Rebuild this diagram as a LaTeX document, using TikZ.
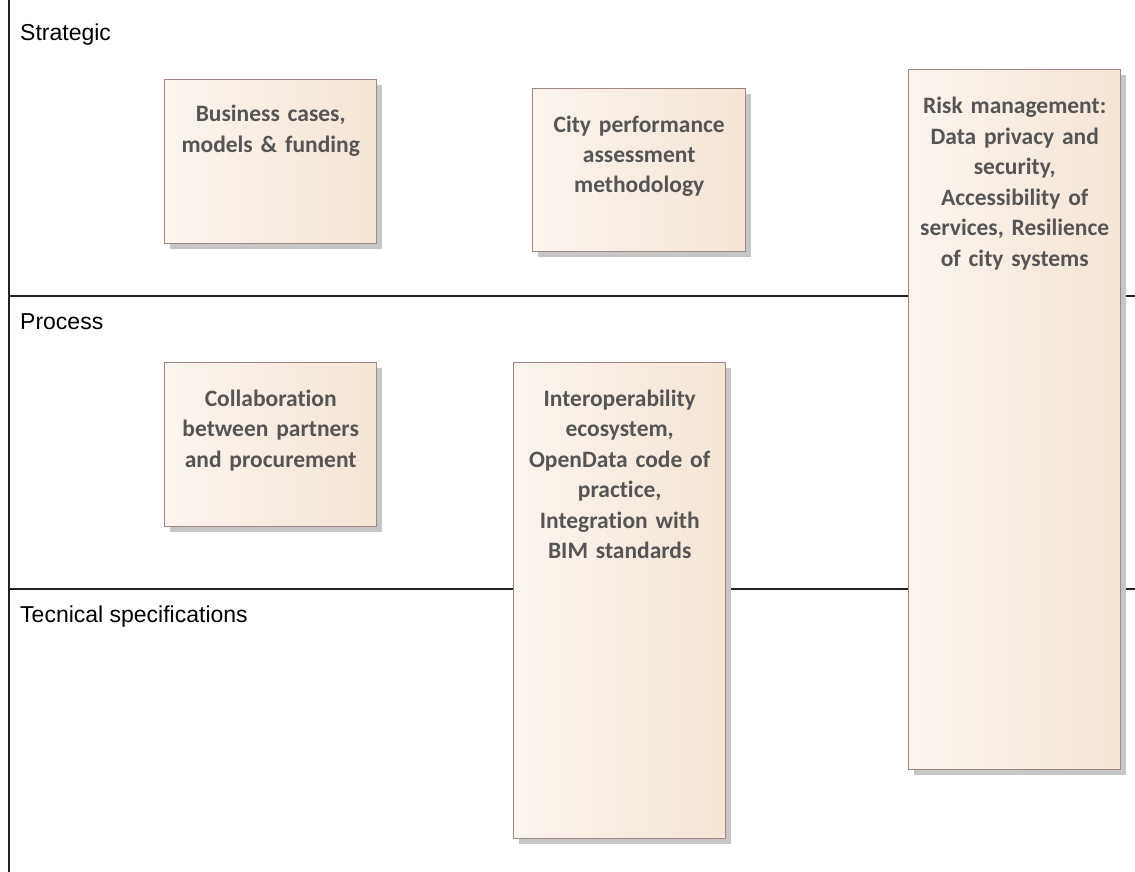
\documentclass[tikz,border=0pt]{standalone}
\usepackage{fontspec}
\setmainfont{Carlito}[Ligatures=NoCommon]
\newfontfamily\labfont{Liberation Sans}
\usetikzlibrary{shadows}
\definecolor{boxline}{HTML}{A08585}
\definecolor{boxleft}{HTML}{FBF4EE}
\definecolor{boxmid}{HTML}{FCF7F2}
\definecolor{boxright}{HTML}{F4E5D6}
\definecolor{boxtext}{HTML}{555555}
\definecolor{shadowcol}{HTML}{C6C6C6}
\definecolor{lanecol}{HTML}{222222}
\tikzset{
  lane/.style={draw=lanecol, line width=1.8pt},
  lanelabel/.style={font=\labfont\fontsize{23}{27}\selectfont, text=black, anchor=base west, inner sep=0pt},
  box/.style={draw=boxline, line width=1.4pt, left color=boxleft, middle color=boxmid, right color=boxright,
    anchor=north west, inner sep=0pt,
    drop shadow={shadow xshift=5pt, shadow yshift=-5pt, fill=shadowcol, opacity=1}},
  boxtxt/.style={font=\bfseries\fontsize{23.5}{30.5}\selectfont, text=boxtext, align=center, anchor=base, inner sep=0pt}
}
\begin{document}
\begin{tikzpicture}[x=1pt,y=-1pt]
\useasboundingbox (0,0) rectangle (1135,872);
% lanes
\coordinate (vtop) at (9,0);
\coordinate (vbot) at (9,872);
\coordinate (h1a) at (9,296);
\coordinate (h1b) at (1135,296);
\coordinate (h2a) at (9,589);
\coordinate (h2b) at (1135,589);
\draw[lane] (vtop) -- (vbot);
\draw[lane] (h1a) -- (h1b);
\draw[lane] (h2a) -- (h2b);
\node[lanelabel] (lstrat) at (20,41) {Strategic};
\node[lanelabel] (lproc) at (20,329) {Process};
\node[lanelabel] (ltech) at (20,622) {Tecnical specifications};
% boxes
\node[box, minimum width=212pt, minimum height=164pt] (b1) at (164,79) {};
\node[boxtxt, text width=205pt] (t1) at ([yshift=-43pt]b1.north) {Business cases,\\models \& funding};
\node[box, minimum width=213pt, minimum height=163pt] (b2) at (532,88) {};
\node[boxtxt, text width=205pt] (t2) at ([yshift=-44pt]b2.north) {City performance\\assessment\\methodology};
\node[box, minimum width=212pt, minimum height=700pt] (b3) at (908,69) {};
\node[boxtxt, text width=210pt] (t3) at ([yshift=-45pt]b3.north) {Risk management:\\Data privacy and\\security,\\Accessibility of\\services, Resilience\\of city systems};
\node[box, minimum width=212pt, minimum height=164pt] (b4) at (164,362) {};
\node[boxtxt, text width=205pt] (t4) at ([yshift=-44pt]b4.north) {Collaboration\\between partners\\and procurement};
\node[box, minimum width=212pt, minimum height=476pt] (b5) at (513,362) {};
\node[boxtxt, text width=205pt] (t5) at ([yshift=-44pt]b5.north) {Interoperability\\ecosystem,\\OpenData code of\\practice,\\Integration with\\BIM standards};
\end{tikzpicture}
\end{document}
